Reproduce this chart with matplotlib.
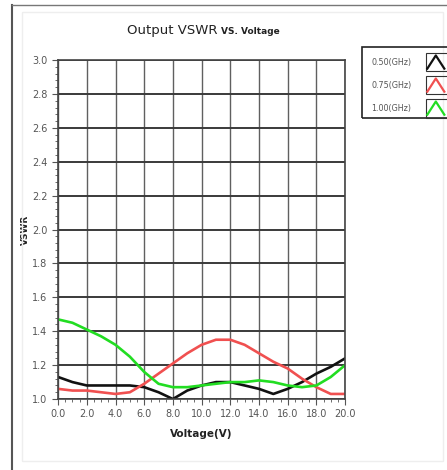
import numpy as np
import matplotlib.pyplot as plt
from matplotlib.patches import Rectangle
from matplotlib.lines import Line2D
from matplotlib.ticker import MultipleLocator

# Voltage (V) sample points
voltage = [0, 1, 2, 3, 4, 5, 6, 7, 8, 9, 10, 11, 12, 13, 14, 15, 16, 17, 18, 19, 20]

# VSWR readings per frequency
vswr_050 = [1.13, 1.10, 1.08, 1.08, 1.08, 1.08, 1.07, 1.04, 1.00, 1.05, 1.08, 1.10,
            1.10, 1.08, 1.06, 1.03, 1.06, 1.10, 1.15, 1.19, 1.24]
vswr_075 = [1.06, 1.05, 1.05, 1.04, 1.03, 1.04, 1.09, 1.15, 1.21, 1.27, 1.32, 1.35,
            1.35, 1.32, 1.27, 1.22, 1.18, 1.12, 1.07, 1.03, 1.03]
vswr_100 = [1.47, 1.45, 1.41, 1.37, 1.32, 1.25, 1.16, 1.09, 1.07, 1.07, 1.08, 1.09,
            1.10, 1.10, 1.11, 1.10, 1.08, 1.07, 1.08, 1.13, 1.20]

series = [("0.50(GHz)", vswr_050, "#111111"),
          ("0.75(GHz)", vswr_075, "#f05050"),
          ("1.00(GHz)", vswr_100, "#22dd22")]

grey = "#555555"

fig = plt.figure(figsize=(4.47, 4.70), dpi=100)
ax = fig.add_axes([0.130, 0.151, 0.642, 0.721])

for name, vals, col in series:
    ax.plot(voltage, vals, color=col, lw=1.9)

ax.set_xlim(0, 20)
ax.set_ylim(1.0, 3.0)
ax.xaxis.set_major_locator(MultipleLocator(2))
ax.xaxis.set_minor_locator(MultipleLocator(0.5))
ax.yaxis.set_major_locator(MultipleLocator(0.2))
ax.yaxis.set_minor_locator(MultipleLocator(0.04))
ax.set_xticklabels([f"{v:.1f}" for v in ax.get_xticks()])
ax.set_yticklabels([f"{v:.1f}" for v in ax.get_yticks()])
ax.grid(True, which="major", axis="y", color="#3a3a3a", lw=1.4)
ax.grid(True, which="major", axis="x", color="#606060", lw=1.0)
ax.set_axisbelow(True)
for s in ax.spines.values():
    s.set_color("#444444")
    s.set_linewidth(1.2)
ax.tick_params(which="both", colors=grey, labelsize=7, direction="out")
ax.tick_params(which="major", length=4)
ax.tick_params(which="minor", length=2.5)

ax.set_xlabel("Voltage(V)", fontweight="bold", fontsize=7.5, color="#222222", labelpad=7)
ax.set_ylabel("VSWR", fontweight="bold", fontsize=6.5, color="#222222")
ax.yaxis.set_label_coords(-0.098, 0.5)

# title: large part plus smaller tail
t1 = fig.text(0.285, 0.927, "Output VSWR", fontsize=9.5, color="#222222", va="baseline")
fig.canvas.draw()
bb = t1.get_window_extent().transformed(fig.transFigure.inverted())
fig.text(bb.x1 + 0.007, 0.927, "VS. Voltage", fontsize=6.5, fontweight="bold",
         color="#222222", va="baseline")

# outer frame
fig.add_artist(Line2D([0.027, 0.027], [0.0, 0.990], transform=fig.transFigure, color="#555555", lw=1.5))
fig.add_artist(Line2D([0.027, 1.0], [0.990, 0.990], transform=fig.transFigure, color="#777777", lw=1.0))
fig.add_artist(Rectangle((0.05, 0.02), 0.94, 0.955, transform=fig.transFigure, fill=False,
                         edgecolor="#eeeeee", lw=1.0))

# legend box
fig.add_artist(Rectangle((0.810, 0.749), 0.195, 0.151, transform=fig.transFigure, fill=False,
                         edgecolor="#222222", lw=1.2))
ys = [0.868, 0.819, 0.770]
for (name, vals, col), yy in zip(series, ys):
    fig.text(0.830, yy, name, fontsize=5.8, color=grey, va="center")
    fig.add_artist(Rectangle((0.952, yy - 0.020), 0.05, 0.040, transform=fig.transFigure,
                             fill=False, edgecolor="#333333", lw=0.8))
    fig.add_artist(Line2D([0.956, 0.975, 0.994], [yy - 0.014, yy + 0.014, yy - 0.014],
                          transform=fig.transFigure, color=col, lw=1.6))

fig.savefig("out.png", dpi=100)
